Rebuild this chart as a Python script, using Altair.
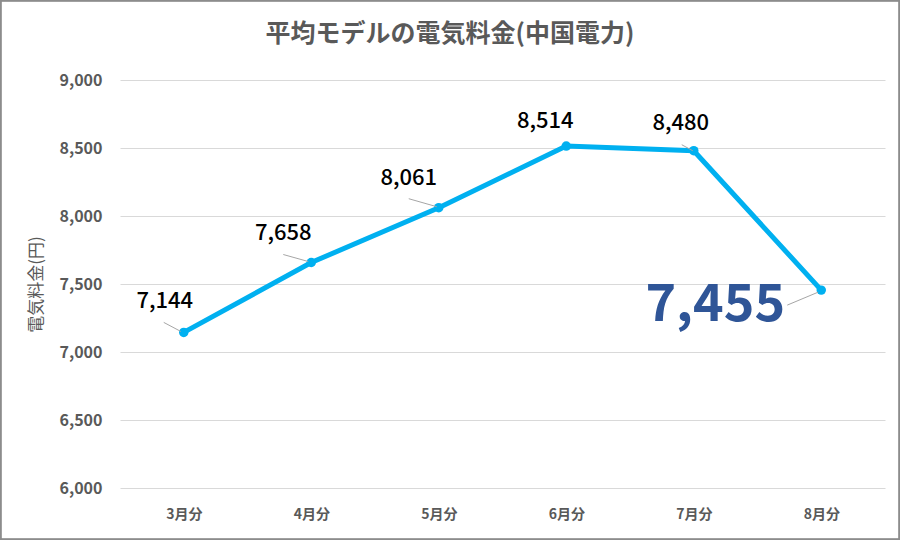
import altair as alt
import pandas as pd

months = ["3月分", "4月分", "5月分", "6月分", "7月分", "8月分"]
prices = [7144, 7658, 8061, 8514, 8480, 7455]
y_ticks = [6000, 6500, 7000, 7500, 8000, 8500, 9000]
title_text = "平均モデルの電気料金(中国電力)"

df = pd.DataFrame({"month": months, "price": prices})
df["label"] = df["price"].map(lambda v: f"{v:,}")

W, H = 765, 408
LINE = "#00B0F0"
GRAY = "#595959"
JP = "Noto Sans CJK JP"

x = alt.X("month:N", sort=months, scale=alt.Scale(type="point", padding=0.5),
          axis=alt.Axis(title=None, labelAngle=0, labelFont=JP, labelFontWeight="bold",
                        labelFontSize=14, labelColor=GRAY, labelPadding=19,
                        ticks=False, domain=False, grid=False))
y = alt.Y("price:Q", scale=alt.Scale(domain=[6000, 9000], nice=False, zero=False),
          axis=alt.Axis(title="電気料金(円)", values=y_ticks, format=",.0f", labelFont=JP,
                        labelFontWeight="bold", labelFontSize=16, labelColor=GRAY,
                        labelPadding=18, ticks=False, domain=False, grid=True,
                        gridColor="#D9D9D9", gridWidth=1, titleFont=JP,
                        titleFontWeight="normal", titleFontSize=17, titleColor=GRAY,
                        titlePadding=14))

base = alt.Chart(df)

border = base.mark_rect(fill=None, stroke="#8C8C8C", strokeWidth=1.5).encode(
    x=alt.value(-119.5), x2=alt.value(W + 14.5), y=alt.value(-79.5), y2=alt.value(H + 51.5)
)
title = alt.Chart(pd.DataFrame({"t": [title_text]})).mark_text(
    font=JP, fontSize=25, fontWeight="bold", color=GRAY, align="center", baseline="middle"
).encode(x=alt.value(330), y=alt.value(-46), text="t:N")

line = base.mark_line(color=LINE, strokeWidth=5).encode(x=x, y=y)
pts = base.mark_circle(color=LINE, size=90, opacity=1).encode(x=x, y=y)

# per-label offsets (styling)
offsets = {
    "3月分": (-19, -31),
    "4月分": (-28, -30),
    "5月分": (-30, -30),
    "6月分": (-21, -25),
    "7月分": (-13, -28),
}
leaders = {
    "3月分": (-20, -10, -3, -1),
    "4月分": (-28, -8, -3, -1),
    "5月分": (-30, -9, -2, -1),
    "7月分": (-12, -6, -1, 0),
}

layers = [border, title, line, pts]
for m, (dx, dy) in offsets.items():
    layers.append(
        base.transform_filter(alt.datum.month == m)
        .mark_text(font=JP, fontSize=22, fontWeight=500, color="#000000", dx=dx, dy=dy)
        .encode(x=x, y=y, text="label:N")
    )
for m, (x1, y1, x2o, y2o) in leaders.items():
    layers.append(
        base.transform_filter(alt.datum.month == m)
        .mark_rule(color="#A6A6A6", strokeWidth=1, xOffset=x1, yOffset=y1,
                   x2Offset=x2o, y2Offset=y2o)
        .encode(x=x, y=y, x2="month:N", y2="price:Q")
    )

last = months[-1]
layers.append(
    base.transform_filter(alt.datum.month == last)
    .mark_rule(color="#A6A6A6", strokeWidth=1, xOffset=-34, yOffset=15,
               x2Offset=-3, y2Offset=2)
    .encode(x=x, y=y, x2="month:N", y2="price:Q")
)
layers.append(
    base.transform_filter(alt.datum.month == last)
    .mark_text(font=JP, fontSize=52, fontWeight="bold",
               color="#2F5597", dx=-106, dy=15)
    .encode(x=x, y=y, text="label:N")
)

chart = alt.layer(*layers).properties(
    width=W, height=H,
    autosize=alt.AutoSizeParams(type="none"),
    padding={"left": 120, "top": 80, "right": 15, "bottom": 52},
    background="white",
).configure_view(stroke=None)

chart.save("out.html", embed_options={"renderer": "svg", "actions": False})
